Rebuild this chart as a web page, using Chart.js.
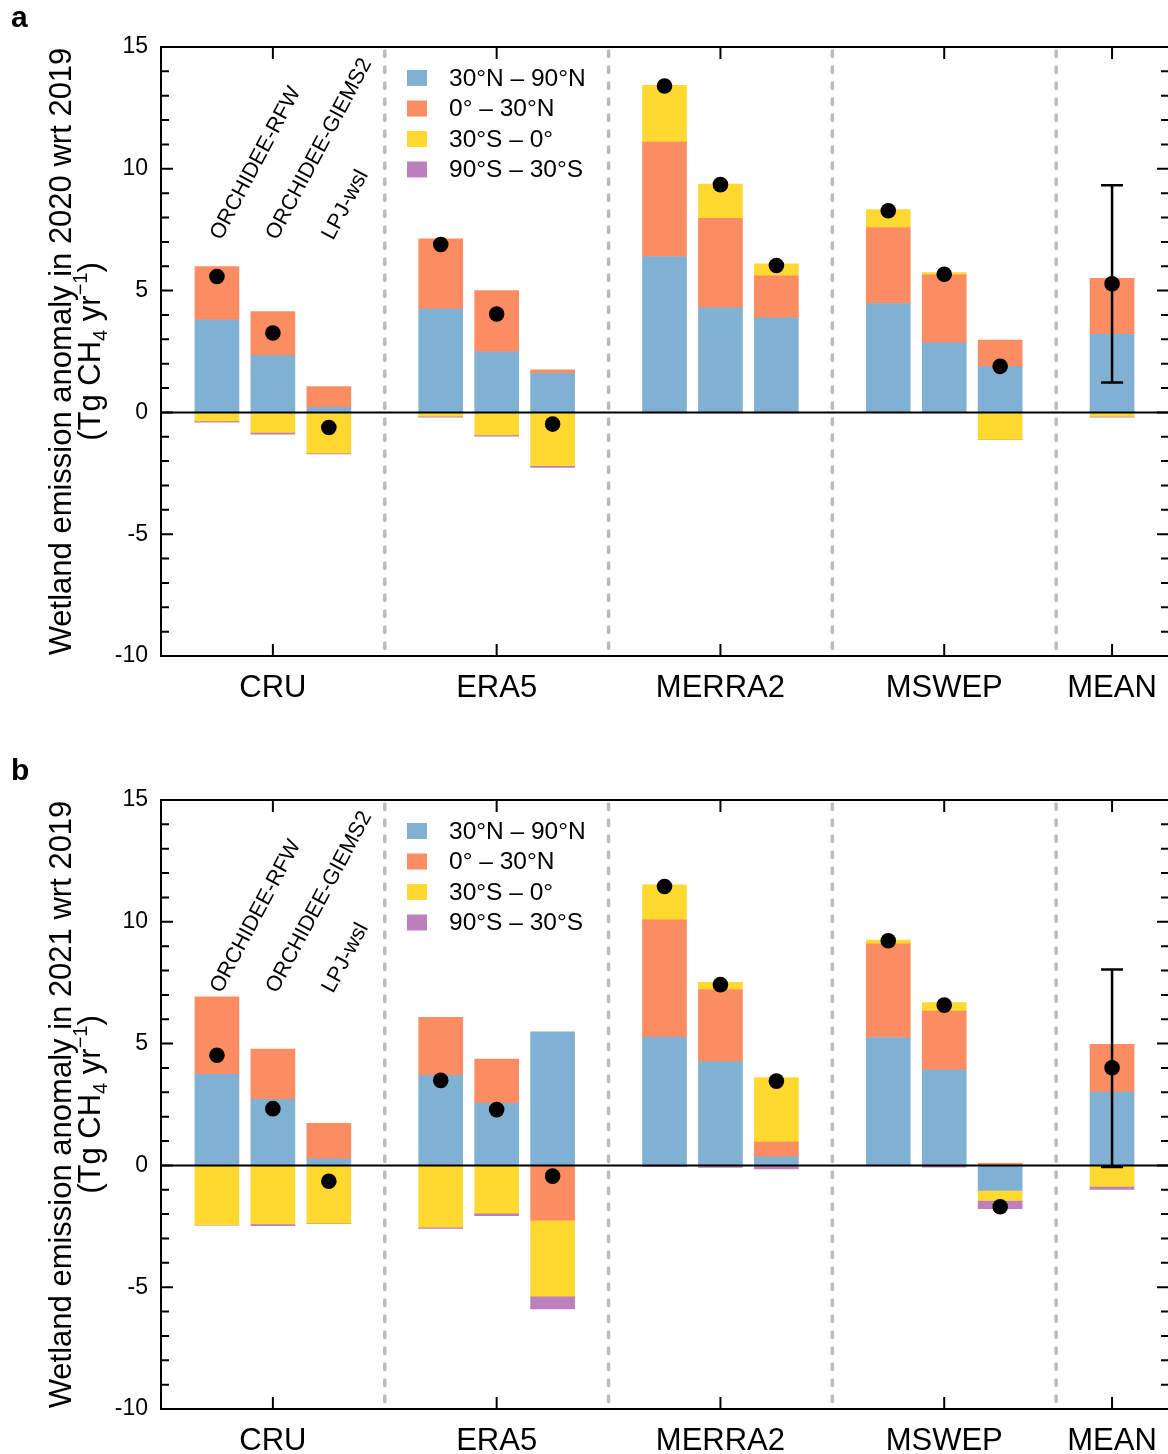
<!DOCTYPE html>
<html><head><meta charset="utf-8">
<script src="https://cdn.jsdelivr.net/npm/chart.js@4"></script>
<style>
html,body{margin:0;padding:0;background:#fff;overflow:hidden;}
#wrap{position:relative;width:1168px;height:1454px;overflow:hidden;}
canvas{position:absolute;left:0;}
</style></head><body>
<div id="wrap">
<canvas id="ca" width="1168" height="727" style="top:0"></canvas>
<canvas id="cb" width="1168" height="727" style="top:753px"></canvas>
</div>
<script>
// ---------- categories ----------
const groups = ['CRU', 'ERA5', 'MERRA2', 'MSWEP'];
const models = ['ORCHIDEE-RFW', 'ORCHIDEE-GIEMS2', 'LPJ-wsl'];
const meanLabel = 'MEAN';
const regions = ['30°N – 90°N', '0° – 30°N', '30°S – 0°', '90°S – 30°S'];
const regionColors = ['#80B1D3', '#FC8D62', '#FFD92F', '#BC80BD'];
const yTicks = [-10, -5, 0, 5, 10, 15];

// ---------- panel a: 2020 wrt 2019 (CRU×3, ERA5×3, MERRA2×3, MSWEP×3, MEAN) ----------
const a_30N_90N = [3.80, 2.33, 0.21, 4.25, 2.49, 1.60, 6.40, 4.29, 3.88, 4.47, 2.86, 1.88, 3.21];
const a_0_30N   = [2.19, 1.81, 0.85, 2.88, 2.51, 0.15, 4.70, 3.68, 1.73, 3.12, 2.79, 1.09, 2.29];
const a_30S_0   = [-0.35, -0.82, -1.67, -0.15, -0.92, -2.19, 2.33, 1.40, 0.49, 0.74, 0.09, -1.11, -0.16];
const a_90S_30S = [-0.05, -0.07, -0.03, -0.05, -0.06, -0.07, -0.02, -0.02, -0.02, -0.01, -0.01, -0.01, -0.04];
const a_total   = [5.58, 3.26, -0.62, 6.89, 4.04, -0.48, 13.40, 9.35, 6.03, 8.28, 5.67, 1.89, 5.28];
const a_meanRange = [1.23, 9.32];

// ---------- panel b: 2021 wrt 2019 ----------
const b_30N_90N = [3.74, 2.71, 0.27, 3.70, 2.55, 5.48, 5.27, 4.26, 0.35, 5.25, 3.92, -1.03, 3.01];
const b_0_30N   = [3.18, 2.07, 1.46, 2.38, 1.81, -2.25, 4.81, 2.96, 0.61, 3.85, 2.41, 0.08, 1.96];
const b_30S_0   = [-2.43, -2.40, -2.37, -2.54, -1.96, -3.12, 1.44, 0.30, 2.64, 0.15, 0.35, -0.41, -0.86];
const b_90S_30S = [-0.02, -0.07, -0.02, -0.05, -0.10, -0.52, -0.05, -0.08, -0.14, -0.02, -0.07, -0.34, -0.13];
const b_total   = [4.52, 2.33, -0.65, 3.49, 2.29, -0.44, 11.45, 7.42, 3.46, 9.22, 6.58, -1.70, 4.01];
const b_meanRange = [-0.07, 8.04];

// ---------- slot layout built from categories ----------
const slots = [null];
groups.forEach(g => { models.forEach(m => slots.push(g + ' / ' + m)); slots.push(null); });
slots.push(meanLabel); slots.push(null);
const xLabelAt = {};
groups.forEach(g => { xLabelAt[slots.indexOf(g + ' / ' + models[1])] = g; });
xLabelAt[slots.indexOf(meanLabel)] = meanLabel;
const centerIdx = Object.keys(xLabelAt).map(Number);
const sepIdx = slots.map((s, i) => (s === null && i > 0 && i < slots.length - 1) ? i : -1).filter(i => i >= 0);
function spread(arr) { let k = 0; return slots.map(s => s === null ? null : arr[k++]); }

const FONT = '"Liberation Sans", Arial, Helvetica, sans-serif';

const panelPlugin = {
  id: 'panel',
  beforeDatasetsDraw(chart) {
    const { ctx, chartArea: ca, scales: { x } } = chart;
    ctx.save();
    ctx.strokeStyle = '#BBBBBB';
    ctx.lineWidth = 3.5;
    ctx.lineCap = 'round';
    ctx.setLineDash([5.5, 10.5]);
    sepIdx.forEach(i => {
      const px = x.getPixelForValue(i);
      ctx.beginPath(); ctx.moveTo(px, ca.top + 4); ctx.lineTo(px, ca.bottom); ctx.stroke();
    });
    ctx.restore();
  },
  afterDatasetsDraw(chart) {
    const { ctx, chartArea: ca, scales: { x, y } } = chart;
    const o = chart.options.plugins.panel;
    ctx.save();
    ctx.strokeStyle = '#000'; ctx.lineWidth = 2;
    const y0 = y.getPixelForValue(0);
    ctx.beginPath(); ctx.moveTo(ca.left, y0); ctx.lineTo(ca.right, y0); ctx.stroke();
    const mi = slots.indexOf(meanLabel);
    const mx = x.getPixelForValue(mi);
    const yl = y.getPixelForValue(o.range[0]), yh = y.getPixelForValue(o.range[1]);
    ctx.lineWidth = 2.5;
    ctx.beginPath();
    ctx.moveTo(mx, yl); ctx.lineTo(mx, yh);
    ctx.moveTo(mx - 11, yl); ctx.lineTo(mx + 11, yl);
    ctx.moveTo(mx - 11, yh); ctx.lineTo(mx + 11, yh);
    ctx.stroke();
    const meta = chart.getDatasetMeta(4);
    ctx.fillStyle = '#000';
    meta.data.forEach((pt, i) => {
      if (chart.data.datasets[4].data[i] == null) return;
      ctx.beginPath(); ctx.arc(pt.x, pt.y, 7.8, 0, Math.PI * 2); ctx.fill();
    });
    ctx.restore();
  },
  afterDraw(chart) {
    const { ctx, chartArea: ca, scales: { x, y } } = chart;
    const o = chart.options.plugins.panel;
    ctx.save();
    ctx.strokeStyle = '#000'; ctx.fillStyle = '#000';
    ctx.lineWidth = 2;
    ctx.beginPath();
    ctx.moveTo(ca.right + 2, ca.top); ctx.lineTo(ca.left, ca.top); ctx.lineTo(ca.left, ca.bottom); ctx.lineTo(ca.right + 2, ca.bottom);
    ctx.stroke();
    ctx.beginPath();
    for (let v = y.min; v <= y.max; v++) {
      const py = y.getPixelForValue(v);
      const len = (v % 5 === 0) ? 12 : 8;
      ctx.moveTo(ca.left, py); ctx.lineTo(ca.left + len, py);
      ctx.moveTo(ca.right + 1, py); ctx.lineTo(ca.right + 1 - len, py);
    }
    centerIdx.forEach(i => {
      const px = x.getPixelForValue(i);
      ctx.moveTo(px, ca.top); ctx.lineTo(px, ca.top + 12);
      ctx.moveTo(px, ca.bottom); ctx.lineTo(px, ca.bottom - 12);
    });
    ctx.stroke();
    // rotated model labels above first group
    ctx.font = '21.5px ' + FONT;
    ctx.textAlign = 'left'; ctx.textBaseline = 'middle';
    models.forEach(m => {
      const px = x.getPixelForValue(slots.indexOf(groups[0] + ' / ' + m));
      const py = y.getPixelForValue(7.15);
      ctx.save(); ctx.translate(px - 1, py); ctx.rotate(-62 * Math.PI / 180);
      ctx.fillText(m, 0, 0); ctx.restore();
    });
    // legend
    ctx.font = '24.5px ' + FONT;
    chart.data.datasets.slice(0, 4).forEach((ds, i) => {
      const cy = ca.top + 31 + i * 30.5;
      ctx.fillStyle = ds.backgroundColor;
      ctx.fillRect(407, cy - 8, 20, 16);
      ctx.fillStyle = '#000';
      ctx.fillText(ds.label, 449, cy + 1);
    });
    // y-axis title
    const cy = (ca.top + ca.bottom) / 2;
    ctx.save();
    ctx.translate(71, cy); ctx.rotate(-Math.PI / 2);
    ctx.font = '31px ' + FONT; ctx.textAlign = 'center'; ctx.textBaseline = 'alphabetic';
    ctx.fillText('Wetland emission anomaly in ' + o.year + ' wrt 2019', 0, 0);
    ctx.restore();
    const parts = [
      { t: '(Tg CH', f: 31, dy: 0 }, { t: '4', f: 20, dy: 7 }, { t: ' yr', f: 31, dy: 0 },
      { t: '−1', f: 20, dy: -13 }, { t: ')', f: 31, dy: 0 }
    ];
    let w = 0;
    parts.forEach(p => { ctx.font = p.f + 'px ' + FONT; p.w = ctx.measureText(p.t).width; w += p.w; });
    ctx.save();
    ctx.translate(100, cy); ctx.rotate(-Math.PI / 2);
    ctx.textAlign = 'left'; ctx.textBaseline = 'alphabetic';
    let xx = -w / 2;
    parts.forEach(p => { ctx.font = p.f + 'px ' + FONT; ctx.fillText(p.t, xx, p.dy); xx += p.w; });
    ctx.restore();
    ctx.font = 'bold 30px ' + FONT; ctx.textAlign = 'left'; ctx.textBaseline = 'alphabetic';
    ctx.fillText(o.letter, 11, 27);
    ctx.restore();
  }
};

function makeChart(id, letter, year, series, totals, range) {
  const datasets = series.map((arr, i) => ({
    type: 'bar', label: regions[i], data: spread(arr), backgroundColor: regionColors[i],
    borderWidth: 0, stack: 'regions', order: 1, barThickness: 44
  }));
  datasets.push({
    type: 'line', label: 'total', data: spread(totals), showLine: false,
    pointRadius: 0, pointHoverRadius: 0, stack: 'total', order: 0, borderColor: '#000', backgroundColor: '#000'
  });
  return new Chart(document.getElementById(id), {
    data: { labels: slots.map(s => s === null ? '' : s), datasets },
    plugins: [panelPlugin],
    options: {
      responsive: false, animation: false, events: [],
      layout: { padding: { top: 47, left: 0, right: 0, bottom: 0 } },
      plugins: { legend: { display: false }, tooltip: { enabled: false }, panel: { letter, year, range } },
      scales: {
        x: {
          type: 'category', offset: false, stacked: true,
          grid: { display: false, drawTicks: false }, border: { display: false },
          ticks: { autoSkip: false, maxRotation: 0, minRotation: 0, padding: 14, color: '#000',
                   font: { family: FONT, size: 31 }, callback: (v, i) => xLabelAt[i] || '' },
          afterFit: s => { s.height = 71; s.paddingLeft = 0; s.paddingRight = 0; }
        },
        y: {
          type: 'linear', min: -10, max: 15, stacked: true,
          grid: { display: false, drawTicks: false }, border: { display: false },
          afterBuildTicks: s => { s.ticks = yTicks.map(v => ({ value: v })); },
          ticks: { padding: 13, color: '#000', font: { family: FONT, size: 23 }, callback: v => String(v) },
          afterFit: s => { s.width = 161; s.paddingTop = 0; s.paddingBottom = 0; }
        }
      }
    }
  });
}

makeChart('ca', 'a', '2020', [a_30N_90N, a_0_30N, a_30S_0, a_90S_30S], a_total, a_meanRange);
makeChart('cb', 'b', '2021', [b_30N_90N, b_0_30N, b_30S_0, b_90S_30S], b_total, b_meanRange);
</script>
</body></html>
